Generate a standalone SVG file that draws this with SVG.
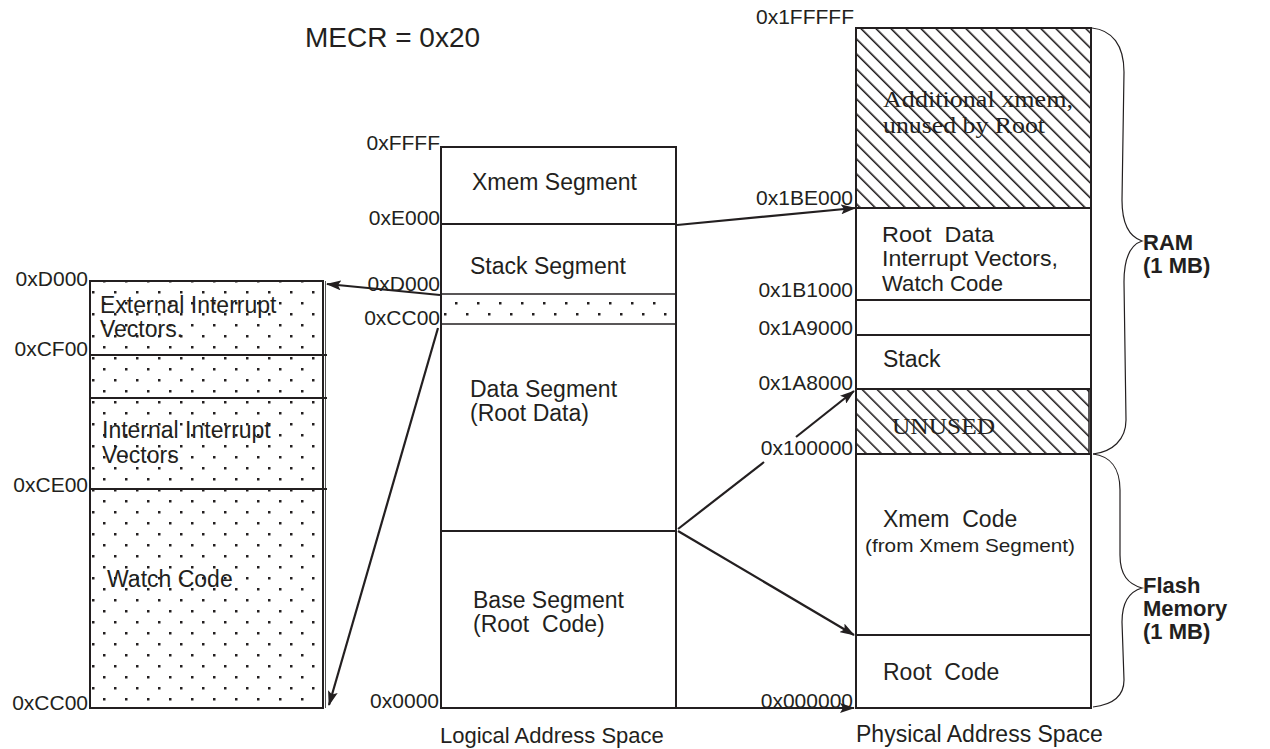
<svg xmlns="http://www.w3.org/2000/svg" width="1270" height="749" viewBox="0 0 1270 749">
<defs>
<style>
.t{font-family:"Liberation Sans",Arial,sans-serif;fill:#231f20}
.a{font-size:21px;text-anchor:end}
.b{font-size:23px}
.k{font-size:22px;font-weight:bold}
.s{font-family:"Liberation Serif","Times New Roman",serif;font-size:24px;fill:#231f20}
.box{stroke:#231f20;stroke-width:2}
.ln{stroke:#231f20;stroke-width:2;fill:none}
.cn{stroke:#231f20;stroke-width:2.2;fill:none}
.br{stroke:#231f20;stroke-width:1.2;fill:none}
</style>
<pattern id="dots" patternUnits="userSpaceOnUse" x="90" y="489" width="22" height="22">
<rect x="2" y="0" width="2.5" height="2.5" fill="#231f20"/>
<rect x="13" y="11" width="2.5" height="2.5" fill="#231f20"/>
</pattern>
<pattern id="hatch" patternUnits="userSpaceOnUse" width="10.6" height="10.6" patternTransform="rotate(45)">
<line x1="0" y1="5" x2="10.6" y2="5" stroke="#231f20" stroke-width="1.6"/>
</pattern>
<marker id="arr" markerUnits="userSpaceOnUse" markerWidth="15" markerHeight="10" refX="14" refY="5" orient="auto">
<path d="M0,0 L15,5 L0,10 L3,5 z" fill="#231f20"/>
</marker>
</defs>
<rect width="1270" height="749" fill="#fff"/>

<text class="t" x="305" y="47" font-size="28">MECR = 0x20</text>

<g id="left-block">
<rect class="box" x="90" y="281" width="233" height="427" fill="url(#dots)"/>
<line x1="325.5" y1="281" x2="325.5" y2="708" stroke="#555" stroke-width="1"/>
<line class="ln" x1="90" y1="355" x2="327" y2="355"/>
<line class="ln" x1="90" y1="398" x2="327" y2="398"/>
<line class="ln" x1="90" y1="489" x2="327" y2="489"/>
<text class="t b" x="100" y="313">External Interrupt</text>
<text class="t b" x="100" y="337">Vectors.</text>
<text class="t b" x="102" y="438">Internal Interrupt</text>
<text class="t b" x="102" y="463">Vectors</text>
<text class="t b" x="107" y="587">Watch Code</text>
<text class="t a" x="88" y="286">0xD000</text>
<text class="t a" x="88" y="356">0xCF00</text>
<text class="t a" x="88" y="492">0xCE00</text>
<text class="t a" x="88" y="710">0xCC00</text>
</g>

<g id="logical-block">
<rect class="box" x="441" y="147" width="235" height="561" fill="#fff"/>
<rect x="441" y="294" width="235" height="30" fill="url(#dots)" stroke="#231f20" stroke-width="1.5"/>
<line class="ln" x1="441" y1="224" x2="676" y2="224"/>
<line class="ln" x1="441" y1="531" x2="676" y2="531"/>
<text class="t b" x="472" y="190">Xmem Segment</text>
<text class="t b" x="470" y="274">Stack Segment</text>
<text class="t b" x="470" y="397">Data Segment</text>
<text class="t b" x="470" y="421">(Root Data)</text>
<text class="t b" x="473" y="608">Base Segment</text>
<text class="t b" x="473" y="632" xml:space="preserve">(Root  Code)</text>
<text class="t a" x="440" y="150">0xFFFF</text>
<text class="t a" x="440" y="225">0xE000</text>
<text class="t a" x="440" y="291">0xD000</text>
<text class="t a" x="440" y="325">0xCC00</text>
<text class="t a" x="439" y="708">0x0000</text>
<text class="t" x="440" y="743" font-size="22">Logical Address Space</text>
</g>

<g id="physical-block">
<rect class="box" x="856" y="28" width="235" height="680" fill="#fff"/>
<rect x="856" y="28" width="235" height="180" fill="url(#hatch)" stroke="#231f20" stroke-width="2"/>
<rect x="856" y="389" width="233" height="65" fill="url(#hatch)" stroke="#231f20" stroke-width="1.5"/>
<line class="ln" x1="856" y1="208" x2="1091" y2="208"/>
<line class="ln" x1="856" y1="300" x2="1091" y2="300"/>
<line class="ln" x1="856" y1="335" x2="1091" y2="335"/>
<line class="ln" x1="856" y1="389" x2="1091" y2="389"/>
<line class="ln" x1="856" y1="454" x2="1091" y2="454"/>
<line class="ln" x1="856" y1="635" x2="1091" y2="635"/>
<text class="s" x="883" y="107" textLength="190" lengthAdjust="spacingAndGlyphs">Additional xmem,</text>
<text class="s" x="883" y="133" textLength="162" lengthAdjust="spacingAndGlyphs">unused by Root</text>
<text class="t" x="882" y="242" font-size="22" textLength="112" lengthAdjust="spacingAndGlyphs" xml:space="preserve">Root  Data</text>
<text class="t" x="882" y="266" font-size="22" textLength="176" lengthAdjust="spacingAndGlyphs">Interrupt Vectors,</text>
<text class="t" x="882" y="291" font-size="22" textLength="121" lengthAdjust="spacingAndGlyphs">Watch Code</text>
<text class="t b" x="883" y="367">Stack</text>
<text class="s" x="892" y="434" textLength="103" lengthAdjust="spacingAndGlyphs">UNUSED</text>
<text class="t b" x="883" y="527" xml:space="preserve">Xmem  Code</text>
<text class="t" x="865" y="552" font-size="19" textLength="210" lengthAdjust="spacingAndGlyphs">(from Xmem Segment)</text>
<text class="t b" x="883" y="680" xml:space="preserve">Root  Code</text>
<text class="t a" x="854" y="24">0x1FFFFF</text>
<text class="t a" x="853" y="205">0x1BE000</text>
<text class="t a" x="853" y="297">0x1B1000</text>
<text class="t a" x="853" y="335">0x1A9000</text>
<text class="t a" x="853" y="390">0x1A8000</text>
<text class="t a" x="853" y="455">0x100000</text>
<text class="t a" x="853" y="708">0x000000</text>
<text class="t" x="856" y="742" font-size="23">Physical Address Space</text>
</g>

<g id="ram-brace">
<path class="br" d="M1092,28 C1112,30 1124,45 1124,72 L1122,200 C1122,224 1130,237 1142,241 C1130,245 1124,258 1124,282 L1126,420 C1126,440 1112,452 1093,454"/>
<text class="t k" x="1143" y="250">RAM</text>
<text class="t k" x="1143" y="273">(1 MB)</text>
</g>

<g id="flash-brace">
<path class="br" d="M1093,454 C1110,456 1120,468 1120,490 L1120,555 C1120,575 1128,584 1142,588 C1128,592 1122,603 1122,622 L1124,680 C1124,698 1110,705 1093,707"/>
<text class="t k" x="1143" y="593">Flash</text>
<text class="t k" x="1143" y="616">Memory</text>
<text class="t k" x="1143" y="639">(1 MB)</text>
</g>

<g id="connectors">
<line class="cn" x1="677" y1="225" x2="855" y2="208" marker-end="url(#arr)"/>
<line class="cn" x1="440" y1="295" x2="327" y2="284" marker-end="url(#arr)"/>
<line class="cn" x1="438" y1="328" x2="329" y2="705" marker-end="url(#arr)"/>
<line class="cn" x1="678" y1="529" x2="764" y2="462"/>
<line class="cn" x1="796" y1="437" x2="854" y2="391" marker-end="url(#arr)"/>
<line class="cn" x1="678" y1="531" x2="854" y2="635" marker-end="url(#arr)"/>
<line class="cn" x1="676" y1="708" x2="854" y2="708" marker-end="url(#arr)"/>
</g>
</svg>
